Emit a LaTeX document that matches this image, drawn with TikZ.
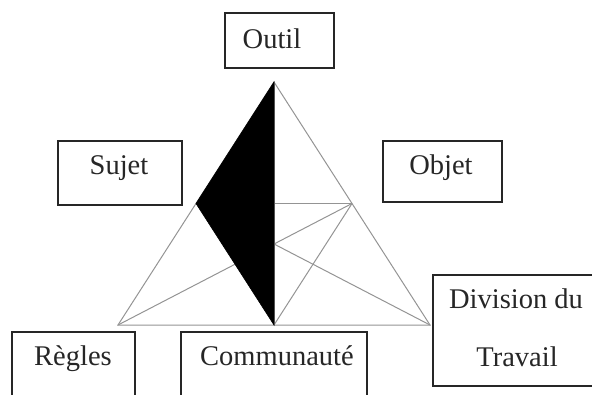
\documentclass[tikz,border=0pt]{standalone}
\usepackage{fontspec}
\setmainfont{Liberation Serif}
\usetikzlibrary{calc}
\begin{document}
\begin{tikzpicture}[x=1pt,y=-1pt,
  box/.style={draw=black!85, line width=1.3pt, inner sep=0pt},
  lbl/.style={font=\fontsize{28.5}{31}\selectfont, inner sep=0pt, anchor=base, text=black!85},
  gline/.style={draw=black!42, line width=1pt}]
\useasboundingbox (0,0) rectangle (592,394);
\clip (0,0) rectangle (592,394);
% triangle points
\coordinate (A) at (274,82);
\coordinate (BL) at (118,325);
\coordinate (BR) at (430,325);
\coordinate (M) at ($(BL)!0.5!(BR)$);
\coordinate (L) at ($(A)!0.5!(BL)$);
\coordinate (R) at ($(A)!0.5!(BR)$);
\coordinate (H) at (A |- R);
% gray lines
\draw[gline] (A) -- (BL) -- (BR) -- cycle;
\draw[gline] (A) -- (M);
\draw[gline] (BL) -- (R);
\draw[gline] (BR) -- (L);
\draw[gline] (R) -- (M);
\draw[gline] (R) -- (H);
% black region
\fill[black, draw=black, line width=0.6pt] (A) -- (L) -- (M) -- cycle;
% boxes
\node[box, minimum width=109pt, minimum height=55pt] (outil) at (279.5,40.5) {};
\node[box, minimum width=124pt, minimum height=64pt] (sujet) at (120,173) {};
\node[box, minimum width=119pt, minimum height=61pt] (objet) at (442.5,171.5) {};
\node[box, minimum width=123pt, minimum height=88pt] (regles) at (73.5,376) {};
\node[box, minimum width=186pt, minimum height=88pt] (commu) at (274,376) {};
\node[box, minimum width=167pt, minimum height=111pt] (divis) at (516.5,330.5) {};
% labels
\node[lbl] (toutil) at (272,48) {Outil};
\node[lbl] (tsujet) at (119,174) {Sujet};
\node[lbl] (tobjet) at (441,174) {Objet};
\node[lbl] (tregles) at (73,365) {Règles};
\node[lbl] (tcommu) at (277,365) {Communauté};
\node[lbl] (tdiv1) at (516,308) {Division du};
\node[lbl] (tdiv2) at (517,366) {Travail};
\end{tikzpicture}
\end{document}
